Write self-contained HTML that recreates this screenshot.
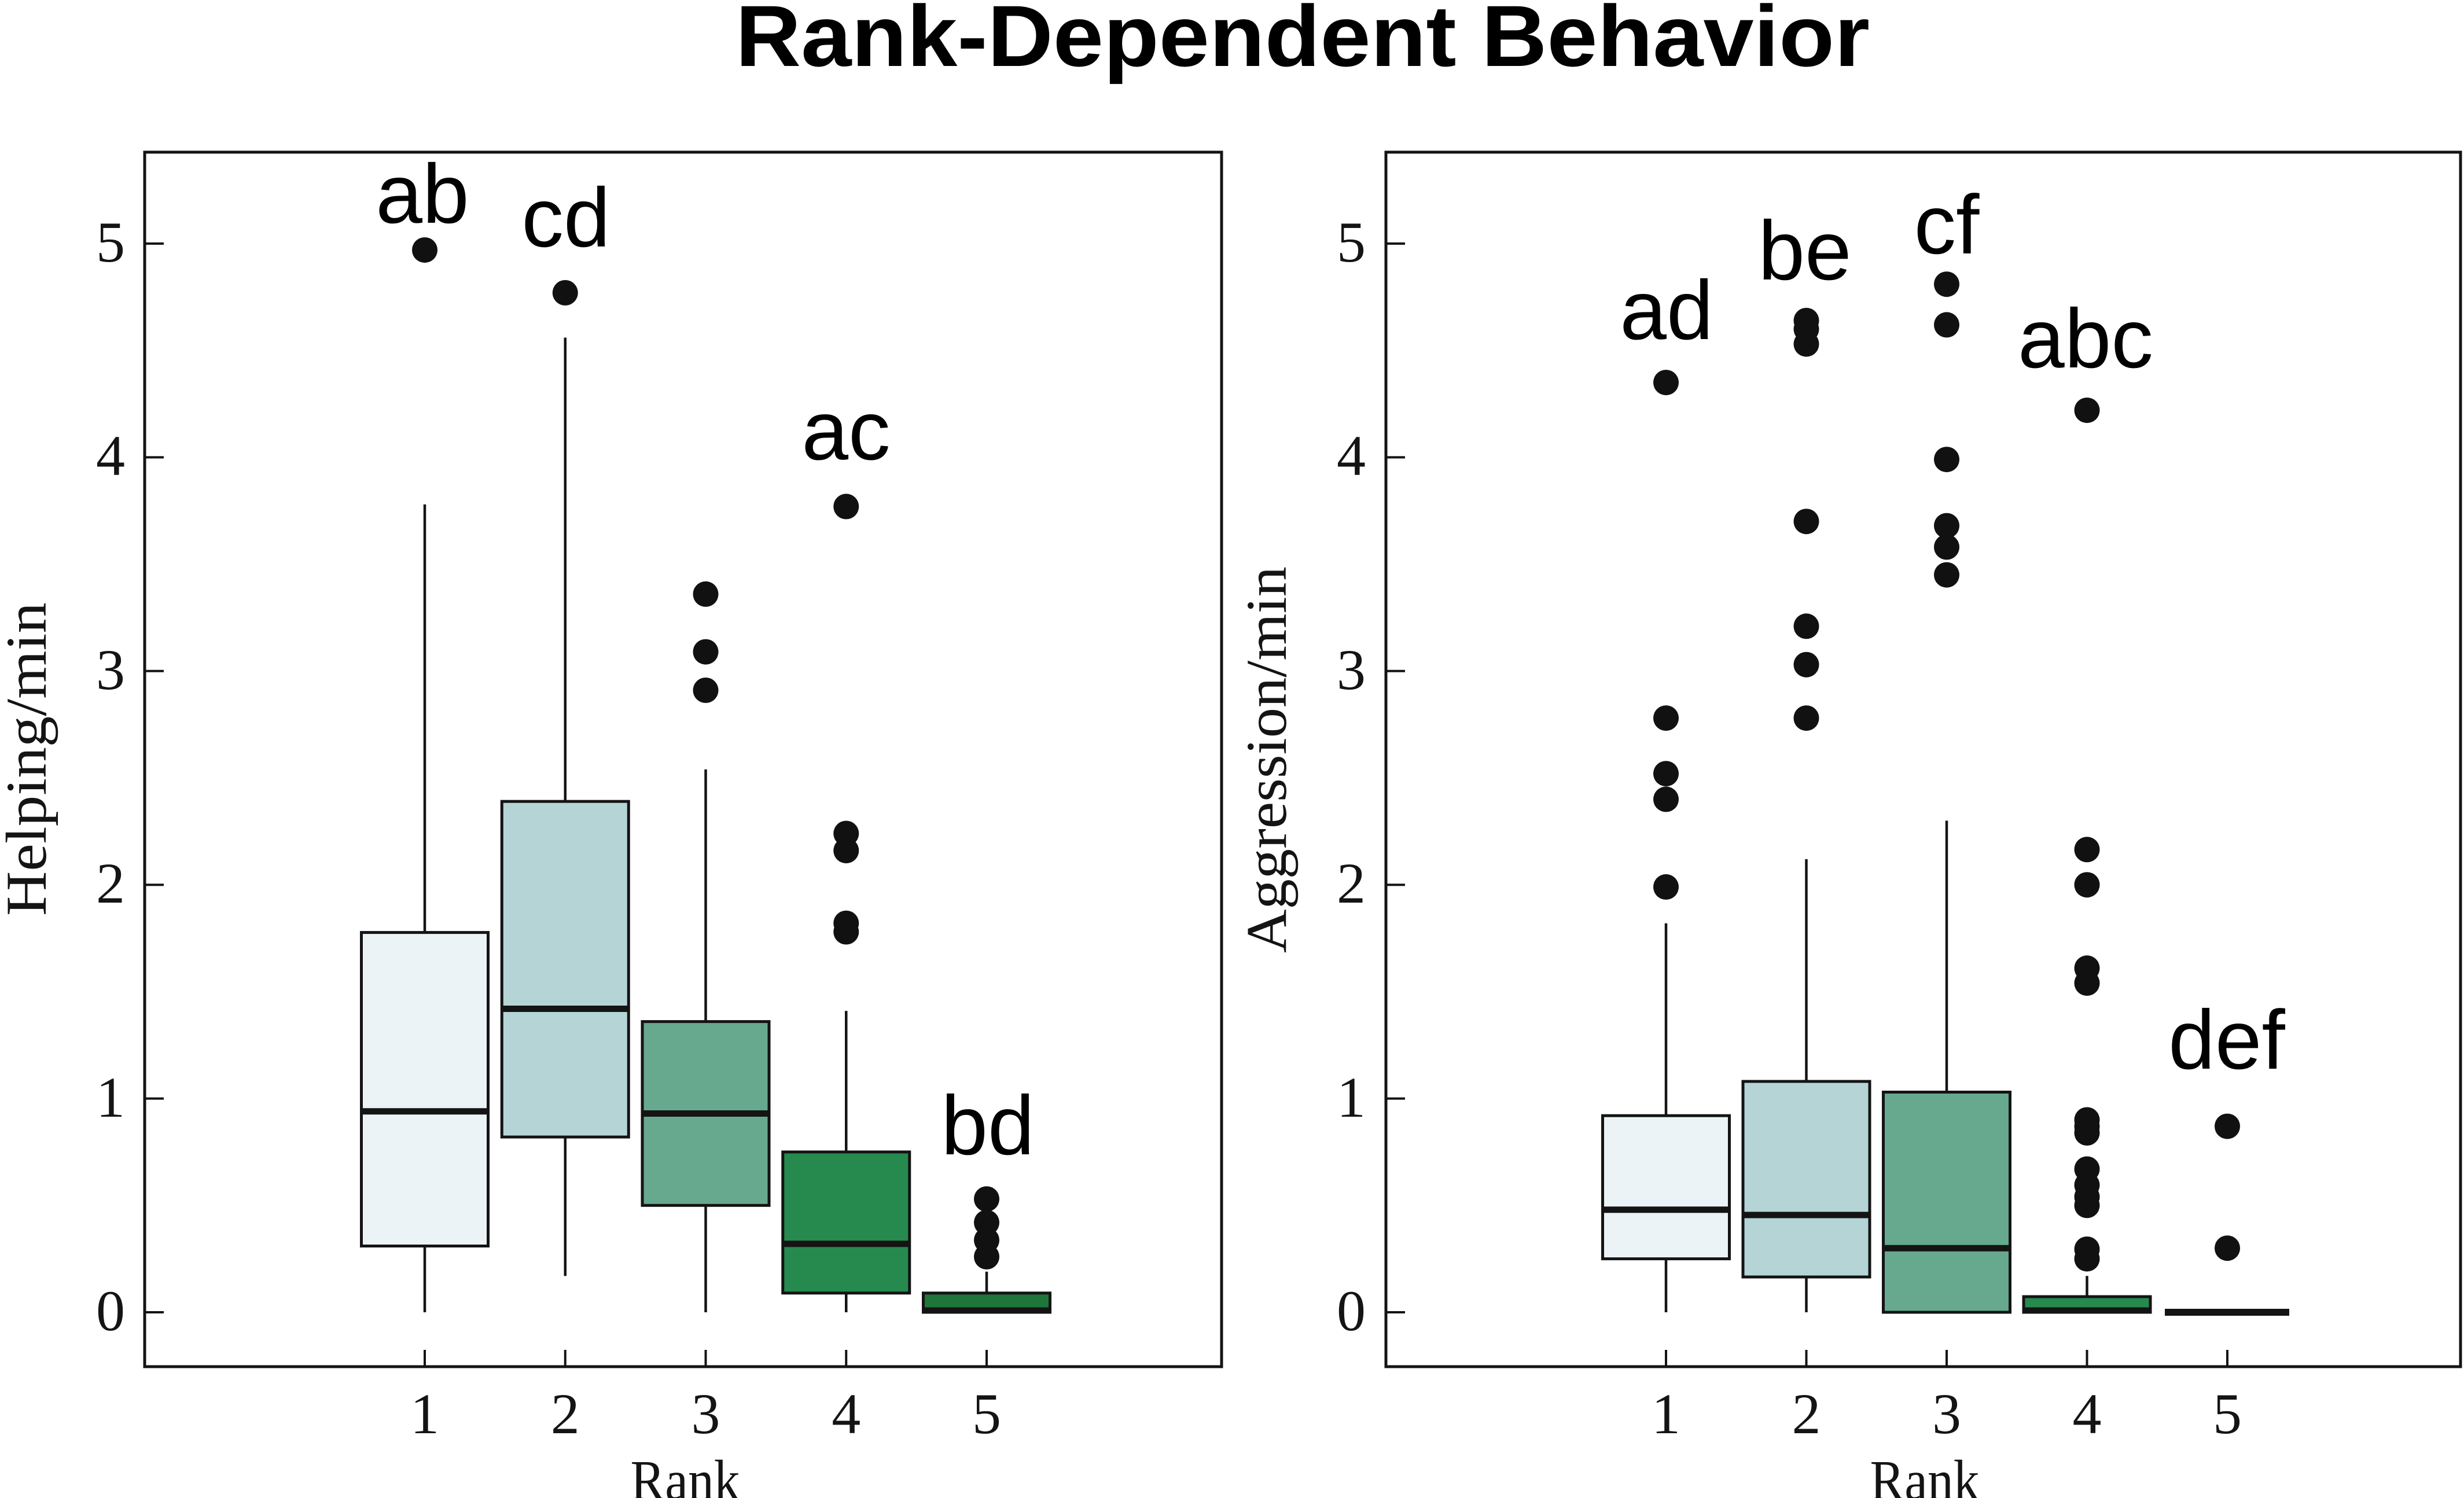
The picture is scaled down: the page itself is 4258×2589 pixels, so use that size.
<!DOCTYPE html>
<html>
<head>
<meta charset="utf-8">
<style>
html,body{margin:0;padding:0;background:#fff;}
svg{display:block;}
</style>
</head>
<body>
<svg xmlns="http://www.w3.org/2000/svg" width="4258" height="2589" viewBox="0 0 4258 2589">
<rect x="0" y="0" width="4258" height="2589" fill="#fff"/>
<!-- Title -->
<text x="2251" y="114" font-family="Liberation Sans, Arial, sans-serif" font-weight="bold" font-size="150" text-anchor="middle" textLength="1960" lengthAdjust="spacingAndGlyphs" fill="#000">Rank-Dependent Behavior</text>

<!-- ============ LEFT PANEL ============ -->
<g stroke="#141414" fill="none">
  <rect x="250" y="263" width="1861" height="2099" stroke-width="5"/>
  <!-- y ticks -->
  <g stroke-width="4">
    <line x1="250" y1="2268" x2="283" y2="2268"/>
    <line x1="250" y1="1898.6" x2="283" y2="1898.6"/>
    <line x1="250" y1="1529.2" x2="283" y2="1529.2"/>
    <line x1="250" y1="1159.8" x2="283" y2="1159.8"/>
    <line x1="250" y1="790.4" x2="283" y2="790.4"/>
    <line x1="250" y1="421" x2="283" y2="421"/>
    <!-- x ticks -->
    <line x1="734" y1="2362" x2="734" y2="2333"/>
    <line x1="976.75" y1="2362" x2="976.75" y2="2333"/>
    <line x1="1219.5" y1="2362" x2="1219.5" y2="2333"/>
    <line x1="1462.25" y1="2362" x2="1462.25" y2="2333"/>
    <line x1="1705" y1="2362" x2="1705" y2="2333"/>
  </g>
</g>
<g font-family="Liberation Serif, Times New Roman, serif" font-size="100" fill="#141414">
  <g text-anchor="end">
    <text x="216" y="2299">0</text>
    <text x="216" y="1930">1</text>
    <text x="216" y="1560">2</text>
    <text x="216" y="1191">3</text>
    <text x="216" y="821">4</text>
    <text x="216" y="452">5</text>
  </g>
  <g text-anchor="middle">
    <text x="734" y="2477">1</text>
    <text x="976.75" y="2477">2</text>
    <text x="1219.5" y="2477">3</text>
    <text x="1462.25" y="2477">4</text>
    <text x="1705" y="2477">5</text>
    <text x="1184" y="2592" textLength="189" lengthAdjust="spacingAndGlyphs">Rank</text>
  </g>
  <text transform="translate(79,1312) rotate(-90)" text-anchor="middle" textLength="542" lengthAdjust="spacingAndGlyphs">Helping/min</text>
</g>

<!-- left boxes -->
<g stroke="#141414" stroke-width="4.5">
  <!-- R1 -->
  <line x1="734" y1="1611.6" x2="734" y2="871.7"/>
  <line x1="734" y1="2153.5" x2="734" y2="2268"/>
  <!-- R2 -->
  <line x1="976.75" y1="1385.1" x2="976.75" y2="583.5"/>
  <line x1="976.75" y1="1965.1" x2="976.75" y2="2205.2"/>
  <!-- R3 -->
  <line x1="1219.5" y1="1765.6" x2="1219.5" y2="1329.7"/>
  <line x1="1219.5" y1="2083.3" x2="1219.5" y2="2268"/>
  <!-- R4 -->
  <line x1="1462.25" y1="1990.95" x2="1462.25" y2="1747.1"/>
  <line x1="1462.25" y1="2234.8" x2="1462.25" y2="2268"/>
  <!-- R5 -->
  <line x1="1705" y1="2234.8" x2="1705" y2="2197.8"/>
</g>
<g stroke="#141414" stroke-width="5">
  <rect x="624.5" y="1611.6" width="219" height="541.9" fill="#EBF3F6"/>
  <rect x="867.25" y="1385.1" width="219" height="580" fill="#B5D4D6"/>
  <rect x="1110" y="1765.6" width="219" height="317.7" fill="#66A98E"/>
  <rect x="1352.75" y="1990.95" width="219" height="243.85" fill="#268A4F"/>
  <rect x="1595.5" y="2234.8" width="219" height="33.2" fill="#1F763A"/>
</g>
<g stroke="#141414" stroke-width="11">
  <line x1="624.5" y1="1920.8" x2="843.5" y2="1920.8"/>
  <line x1="867.25" y1="1743.5" x2="1086.25" y2="1743.5"/>
  <line x1="1110" y1="1924.5" x2="1329" y2="1924.5"/>
  <line x1="1352.75" y1="2149.8" x2="1571.75" y2="2149.8"/>
  <line x1="1595.5" y1="2265" x2="1814.5" y2="2265"/>
</g>
<g fill="#111">
  <circle cx="734" cy="432.1" r="22"/>
  <circle cx="976.75" cy="506" r="22"/>
  <circle cx="1219.5" cy="1026.8" r="22"/>
  <circle cx="1219.5" cy="1126.6" r="22"/>
  <circle cx="1219.5" cy="1193" r="22"/>
  <circle cx="1462.25" cy="875.4" r="22"/>
  <circle cx="1462.25" cy="1440.5" r="22"/>
  <circle cx="1462.25" cy="1470.1" r="22"/>
  <circle cx="1462.25" cy="1595.7" r="22"/>
  <circle cx="1462.25" cy="1610.5" r="22"/>
  <circle cx="1705" cy="2072.2" r="22"/>
  <circle cx="1705" cy="2112.9" r="22"/>
  <circle cx="1705" cy="2143.4" r="22"/>
  <circle cx="1705" cy="2172" r="22"/>
</g>
<g font-family="Liberation Sans, Arial, sans-serif" font-size="145" fill="#000" text-anchor="middle">
  <text x="730" y="385">ab</text>
  <text x="978" y="426">cd</text>
  <text x="1462" y="794">ac</text>
  <text x="1707" y="1995">bd</text>
</g>

<!-- ============ RIGHT PANEL ============ -->
<g stroke="#141414" fill="none">
  <rect x="2395" y="263" width="1857" height="2099" stroke-width="5"/>
  <g stroke-width="4">
    <line x1="2395" y1="2268" x2="2428" y2="2268"/>
    <line x1="2395" y1="1898.6" x2="2428" y2="1898.6"/>
    <line x1="2395" y1="1529.2" x2="2428" y2="1529.2"/>
    <line x1="2395" y1="1159.8" x2="2428" y2="1159.8"/>
    <line x1="2395" y1="790.4" x2="2428" y2="790.4"/>
    <line x1="2395" y1="421" x2="2428" y2="421"/>
    <line x1="2879" y1="2362" x2="2879" y2="2333"/>
    <line x1="3121.5" y1="2362" x2="3121.5" y2="2333"/>
    <line x1="3364" y1="2362" x2="3364" y2="2333"/>
    <line x1="3606.5" y1="2362" x2="3606.5" y2="2333"/>
    <line x1="3849" y1="2362" x2="3849" y2="2333"/>
  </g>
</g>
<g font-family="Liberation Serif, Times New Roman, serif" font-size="100" fill="#141414">
  <g text-anchor="end">
    <text x="2360" y="2299">0</text>
    <text x="2360" y="1930">1</text>
    <text x="2360" y="1560">2</text>
    <text x="2360" y="1191">3</text>
    <text x="2360" y="821">4</text>
    <text x="2360" y="452">5</text>
  </g>
  <g text-anchor="middle">
    <text x="2879" y="2477">1</text>
    <text x="3121.5" y="2477">2</text>
    <text x="3364" y="2477">3</text>
    <text x="3606.5" y="2477">4</text>
    <text x="3849" y="2477">5</text>
    <text x="3326" y="2592" textLength="189" lengthAdjust="spacingAndGlyphs">Rank</text>
  </g>
  <text transform="translate(2222,1313) rotate(-90)" text-anchor="middle" textLength="668" lengthAdjust="spacingAndGlyphs">Aggression/min</text>
</g>

<g stroke="#141414" stroke-width="4.5">
  <line x1="2879" y1="1928.2" x2="2879" y2="1595.7"/>
  <line x1="2879" y1="2175.6" x2="2879" y2="2268"/>
  <line x1="3121.5" y1="1869" x2="3121.5" y2="1484.9"/>
  <line x1="3121.5" y1="2207" x2="3121.5" y2="2268"/>
  <line x1="3364" y1="1887.5" x2="3364" y2="1418.4"/>
  <line x1="3606.5" y1="2241" x2="3606.5" y2="2205.2"/>
</g>
<g stroke="#141414" stroke-width="5">
  <rect x="2769.5" y="1928.2" width="219" height="247.4" fill="#EBF3F6"/>
  <rect x="3012" y="1869" width="219" height="338" fill="#B5D4D6"/>
  <rect x="3254.5" y="1887.5" width="219" height="380.5" fill="#66A98E"/>
  <rect x="3497" y="2241" width="219" height="27" fill="#268A4F"/>
</g>
<g stroke="#141414" stroke-width="11">
  <line x1="2769.5" y1="2090.7" x2="2988.5" y2="2090.7"/>
  <line x1="3012" y1="2099.9" x2="3231" y2="2099.9"/>
  <line x1="3254.5" y1="2157.2" x2="3473.5" y2="2157.2"/>
  <line x1="3497" y1="2265" x2="3716" y2="2265"/>
  <line x1="3741" y1="2268" x2="3956" y2="2268" stroke-width="12"/>
</g>
<g fill="#111">
  <!-- R1 -->
  <circle cx="2879" cy="661.1" r="22"/>
  <circle cx="2879" cy="1241.1" r="22"/>
  <circle cx="2879" cy="1337.1" r="22"/>
  <circle cx="2879" cy="1381.4" r="22"/>
  <circle cx="2879" cy="1532.9" r="22"/>
  <!-- R2 -->
  <circle cx="3121.5" cy="554" r="22"/>
  <circle cx="3121.5" cy="568.8" r="22"/>
  <circle cx="3121.5" cy="594.6" r="22"/>
  <circle cx="3121.5" cy="901.2" r="22"/>
  <circle cx="3121.5" cy="1082.3" r="22"/>
  <circle cx="3121.5" cy="1148.7" r="22"/>
  <circle cx="3121.5" cy="1241.1" r="22"/>
  <!-- R3 -->
  <circle cx="3364" cy="491.2" r="22"/>
  <circle cx="3364" cy="561.4" r="22"/>
  <circle cx="3364" cy="794.1" r="22"/>
  <circle cx="3364" cy="908.6" r="22"/>
  <circle cx="3364" cy="945.5" r="22"/>
  <circle cx="3364" cy="993.6" r="22"/>
  <!-- R4 -->
  <circle cx="3606.5" cy="709.1" r="22"/>
  <circle cx="3606.5" cy="1468.3" r="22"/>
  <circle cx="3606.5" cy="1529.2" r="22"/>
  <circle cx="3606.5" cy="1673.3" r="22"/>
  <circle cx="3606.5" cy="1699.1" r="22"/>
  <circle cx="3606.5" cy="1935.5" r="22"/>
  <circle cx="3606.5" cy="1947" r="22"/>
  <circle cx="3606.5" cy="1958" r="22"/>
  <circle cx="3606.5" cy="2020.5" r="22"/>
  <circle cx="3606.5" cy="2048.2" r="22"/>
  <circle cx="3606.5" cy="2068.5" r="22"/>
  <circle cx="3606.5" cy="2083.3" r="22"/>
  <circle cx="3606.5" cy="2159" r="22"/>
  <circle cx="3606.5" cy="2175.6" r="22"/>
  <!-- R5 -->
  <circle cx="3849" cy="1946.6" r="22"/>
  <circle cx="3849" cy="2157.2" r="22"/>
</g>
<g font-family="Liberation Sans, Arial, sans-serif" font-size="145" fill="#000" text-anchor="middle">
  <text x="2880" y="586">ad</text>
  <text x="3119" y="483">be</text>
  <text x="3364" y="438">cf</text>
  <text x="3604" y="635">abc</text>
  <text x="3848" y="1847">def</text>
</g>
</svg>
</body>
</html>
